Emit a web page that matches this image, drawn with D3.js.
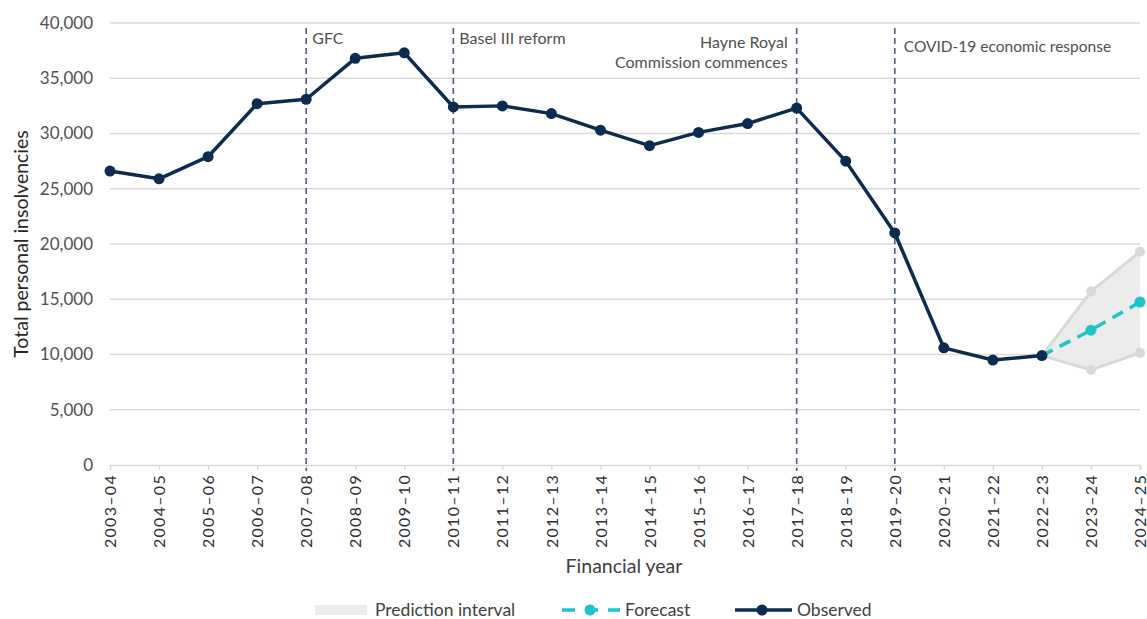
<!DOCTYPE html>
<html><head><meta charset="utf-8">
<script src="https://cdn.jsdelivr.net/npm/d3@7"></script>
<style>body{margin:0;background:#fff;}svg{display:block;font-family:Lato,"Open Sans",sans-serif;}</style>
</head><body><svg id="c" width="1147" height="619"></svg>
<script>
const years = ["2003–04","2004–05","2005–06","2006–07","2007–08","2008–09","2009–10","2010–11","2011–12","2012–13","2013–14","2014–15","2015–16","2016–17","2017–18","2018–19","2019–20","2020–21","2021–22","2022–23","2023–24","2024–25"];
const observed = [26600,25900,27900,32700,33100,36800,37300,32400,32500,31800,30300,28900,30100,30900,32300,27500,21000,10600,9500,9900];
const forecastYears = ["2022–23","2023–24","2024–25"];
const forecast = [9900,12200,14750];
const upper = [9900,15700,19300];
const lower = [9900,8600,10150];
const yTicks = [0,5000,10000,15000,20000,25000,30000,35000,40000];
const events = [
  {year:"2007–08", lines:["GFC"], anchor:"start"},
  {year:"2010–11", lines:["Basel III reform"], anchor:"start"},
  {year:"2017–18", lines:["Hayne Royal","Commission commences"], anchor:"end"},
  {year:"2019–20", lines:["COVID-19 economic response"], anchor:"start"}
];

const svg = d3.select("#c");
const L=110, R=1140, T=23, B=465;
const x = d3.scalePoint().domain(years).range([L,R]);
const y = d3.scaleLinear().domain([0,40000]).range([B,T]);
const grey="#505050";

// gridlines
svg.append("g").selectAll("line").data(yTicks.filter(d=>d>0)).join("line")
  .attr("x1",L).attr("x2",R).attr("y1",d=>y(d)).attr("y2",d=>y(d))
  .attr("stroke","#d9d9d9").attr("stroke-width",1.3);

// y axis labels
const yAxis = svg.append("g").attr("transform",`translate(${L},0)`)
  .call(d3.axisLeft(y).tickValues(yTicks).tickFormat(d3.format(",")).tickSize(0).tickPadding(17));
yAxis.select(".domain").remove();
yAxis.selectAll("text").attr("fill",grey).style("font-size","17px").style("font-family","Lato,sans-serif");

// x axis
const xAxis = svg.append("g").attr("transform",`translate(0,${B})`)
  .call(d3.axisBottom(x).tickSize(5).tickPadding(4));
xAxis.select(".domain").attr("stroke","#d9d9d9").attr("stroke-width",1.5);
xAxis.selectAll(".tick line").attr("stroke","#d9d9d9").attr("stroke-width",1.3);
xAxis.selectAll("text").attr("fill","#303030").style("font-size","16px").style("letter-spacing","1.3px").style("font-family","Lato,sans-serif")
  .attr("transform","rotate(-90)").attr("text-anchor","end").attr("x",-9).attr("y",0).attr("dy","0.35em");

// event lines
const ev = svg.append("g");
events.forEach(e=>{
  const xx = x(e.year);
  ev.append("line").attr("x1",xx).attr("x2",xx).attr("y1",28).attr("y2",B+6)
    .attr("stroke","#4f5f80").attr("stroke-width",1.6).attr("stroke-dasharray","6,4");
});
const evText = [
  {dx:6, y:[38], size:16},
  {dx:6, y:[38], size:16},
  {dx:-9, y:[42,62], size:16},
  {dx:9, y:[47], size:15.5}
];
events.forEach((e,i)=>{
  e.lines.forEach((t,j)=>{
    ev.append("text").attr("x",x(e.year)+evText[i].dx).attr("y",evText[i].y[j]).attr("dy","0.35em")
      .attr("text-anchor",e.anchor).attr("fill",grey).style("font-size",evText[i].size+"px").text(t);
  });
});

// prediction interval
const area = d3.area().x((d,i)=>x(forecastYears[i])).y0((d,i)=>y(lower[i])).y1((d,i)=>y(upper[i]));
svg.append("path").datum(upper).attr("d",area).attr("fill","#ececec");
[upper,lower].forEach(arr=>{
  svg.append("path").datum(arr).attr("d",d3.line().x((d,i)=>x(forecastYears[i])).y(d=>y(d)))
    .attr("fill","none").attr("stroke","#d9d9d9").attr("stroke-width",3);
  svg.append("g").selectAll("circle").data(arr.slice(1)).join("circle")
    .attr("cx",(d,i)=>x(forecastYears[i+1])).attr("cy",d=>y(d)).attr("r",5).attr("fill","#d9d9d9");
});

// forecast
svg.append("path").datum(forecast).attr("d",d3.line().x((d,i)=>x(forecastYears[i])).y(d=>y(d)))
  .attr("fill","none").attr("stroke","#1fc3c9").attr("stroke-width",3.5).attr("stroke-dasharray","12,8");
svg.append("g").selectAll("circle").data(forecast.slice(1)).join("circle")
  .attr("cx",(d,i)=>x(forecastYears[i+1])).attr("cy",d=>y(d)).attr("r",5.5).attr("fill","#1fc3c9");

// observed
const navy="#0c2b4f";
svg.append("path").datum(observed).attr("d",d3.line().x((d,i)=>x(years[i])).y(d=>y(d)))
  .attr("fill","none").attr("stroke",navy).attr("stroke-width",3.5).attr("stroke-linejoin","round");
svg.append("g").selectAll("circle").data(observed).join("circle")
  .attr("cx",(d,i)=>x(years[i])).attr("cy",d=>y(d)).attr("r",5.5).attr("fill",navy);

// axis titles
svg.append("text").attr("transform","translate(21,244) rotate(-90)").attr("text-anchor","middle").attr("dy","0.35em")
  .attr("fill","#262626").style("font-size","19.5px").text("Total personal insolvencies");
svg.append("text").attr("x",624).attr("y",566).attr("dy","0.35em").attr("text-anchor","middle")
  .attr("fill","#404040").style("font-size","19.5px").text("Financial year");

// legend
const lg = svg.append("g");
const ly=610;
lg.append("rect").attr("x",315).attr("y",ly-5).attr("width",52).attr("height",10).attr("fill","#ececec");
lg.append("text").attr("x",375).attr("y",ly).attr("dy","0.35em").attr("fill","#404040").style("font-size","17.5px").text("Prediction interval");
lg.append("line").attr("x1",562).attr("x2",620).attr("y1",ly).attr("y2",ly).attr("stroke","#1fc3c9").attr("stroke-width",3.5).attr("stroke-dasharray","13,10");
lg.append("circle").attr("cx",590).attr("cy",ly).attr("r",5.5).attr("fill","#1fc3c9");
lg.append("text").attr("x",625).attr("y",ly).attr("dy","0.35em").attr("fill","#404040").style("font-size","17.5px").text("Forecast");
lg.append("line").attr("x1",735).attr("x2",792).attr("y1",ly).attr("y2",ly).attr("stroke",navy).attr("stroke-width",3.5);
lg.append("circle").attr("cx",762).attr("cy",ly).attr("r",5.5).attr("fill",navy);
lg.append("text").attr("x",797).attr("y",ly).attr("dy","0.35em").attr("fill","#404040").style("font-size","17.5px").text("Observed");
</script></body></html>
